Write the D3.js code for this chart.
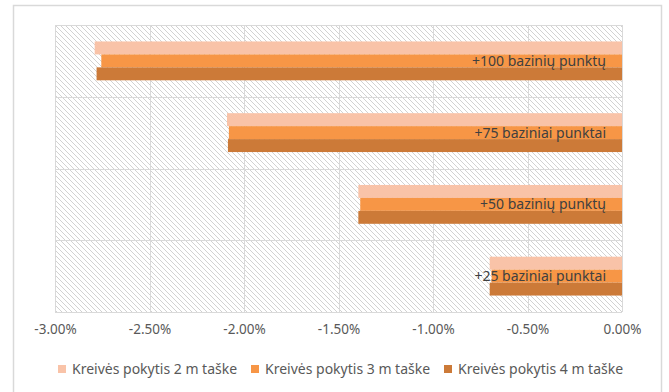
<!DOCTYPE html>
<html>
<head>
<meta charset="utf-8">
<script src="https://cdn.jsdelivr.net/npm/d3@7"></script>
<style>
  html, body { margin: 0; padding: 0; background: #fff; }
  svg { display: block; }
  text { font-family: "Noto Sans", "DejaVu Sans", sans-serif; }
</style>
</head>
<body>
<svg id="chart" width="669" height="392"></svg>
<script>
// Yield curve shift scenarios (top to bottom)
const categories = ["+100 bazinių punktų", "+75 baziniai punktai", "+50 bazinių punktų", "+25 baziniai punktai"];
const seriesNames = ["Kreivės pokytis 2 m taške", "Kreivės pokytis 3 m taške", "Kreivės pokytis 4 m taške"];
// Change in value, % (one array per series, same order as categories)
const values2m = [-2.79, -2.09, -1.395, -0.70];
const values3m = [-2.755, -2.08, -1.385, -0.69];
const values4m = [-2.78, -2.085, -1.395, -0.70];
const xTicks = [-3.0, -2.5, -2.0, -1.5, -1.0, -0.5, 0.0];
const colors = ["#F9C3A8", "#F79646", "#CC7A38"];

const series = [values2m, values3m, values4m];
const svg = d3.select("#chart");

// outer chart frame
svg.append("rect")
  .attr("x", 13.5).attr("y", 5.5).attr("width", 648).attr("height", 392)
  .attr("fill", "#fff").attr("stroke", "#d9d9d9").attr("stroke-width", 1.5);

const plot = { left: 55, right: 622, top: 25, bottom: 312 };

const x = d3.scaleLinear().domain([-3, 0]).range([plot.left, plot.right]);
const y0 = d3.scaleBand().domain(categories).range([plot.top, plot.bottom]).paddingInner(0).paddingOuter(0);
const y1 = d3.scaleBand().domain(seriesNames).range([0, y0.bandwidth()]).paddingInner(0).paddingOuter(1.27);

// diagonal hatch for the plot background
const defs = svg.append("defs");
const pat = defs.append("pattern")
  .attr("id", "hatch").attr("patternUnits", "userSpaceOnUse")
  .attr("width", 5).attr("height", 5);
pat.append("path")
  .attr("d", "M-1,-1 L6,6 M-1,4 L1,6 M4,-1 L6,1")
  .attr("stroke", "#d2d2d2").attr("stroke-width", 1).attr("fill", "none");

svg.append("rect")
  .attr("x", plot.left).attr("y", plot.top)
  .attr("width", plot.right - plot.left).attr("height", plot.bottom - plot.top)
  .attr("fill", "url(#hatch)");

// gridlines
const grid = svg.append("g").attr("stroke", "#d9d9d9").attr("stroke-width", 1);
grid.selectAll("line.v").data(xTicks).join("line")
  .attr("class", "v")
  .attr("x1", d => Math.round(x(d)) + 0.5).attr("x2", d => Math.round(x(d)) + 0.5)
  .attr("y1", plot.top).attr("y2", plot.bottom);
const hLines = categories.map(c => y0(c)).concat([plot.bottom]);
grid.selectAll("line.h").data(hLines).join("line")
  .attr("class", "h")
  .attr("x1", plot.left).attr("x2", plot.right)
  .attr("y1", d => Math.round(d) + 0.5).attr("y2", d => Math.round(d) + 0.5);

// bars
const groups = svg.append("g").selectAll("g").data(categories).join("g")
  .attr("transform", c => `translate(0,${y0(c)})`);
groups.selectAll("rect").data((c, i) => seriesNames.map((s, j) => ({ s, j, v: series[j][i] })))
  .join("rect")
  .attr("x", d => x(d.v))
  .attr("y", d => y1(d.s))
  .attr("width", d => x(0) - x(d.v))
  .attr("height", y1.bandwidth())
  .attr("fill", d => colors[d.j]);

// category labels inside the bars
svg.append("g").selectAll("text").data(categories).join("text")
  .attr("x", x(0) - 16)
  .attr("y", c => y0(c) + y0.bandwidth() / 2)
  .attr("dy", "0.35em")
  .attr("text-anchor", "end")
  .attr("font-size", 14)
  .attr("fill", "#404040")
  .text(c => c);

// x axis labels (plain hyphen for the minus sign)
const fmt = d3.format(".2f");
const xAxis = d3.axisBottom(x).tickValues(xTicks)
  .tickFormat(d => fmt(d).replace("\u2212", "-") + "%").tickSize(0).tickPadding(12);
const ax = svg.append("g").attr("transform", `translate(0,${plot.bottom})`).call(xAxis);
ax.select(".domain").remove();
ax.selectAll("text").attr("font-size", 13.5).attr("fill", "#595959")
  .style("font-family", "\"Noto Sans\", sans-serif");

// legend
const legendX = [58, 251, 444];
const lg = svg.append("g").selectAll("g").data(seriesNames).join("g")
  .attr("transform", (d, i) => `translate(${legendX[i]},365)`);
lg.append("rect").attr("width", 8).attr("height", 8).attr("fill", (d, i) => colors[i]);
lg.append("text").attr("x", 14).attr("y", 8.5).attr("font-size", 14).attr("fill", "#595959").text(d => d);
</script>
</body>
</html>
